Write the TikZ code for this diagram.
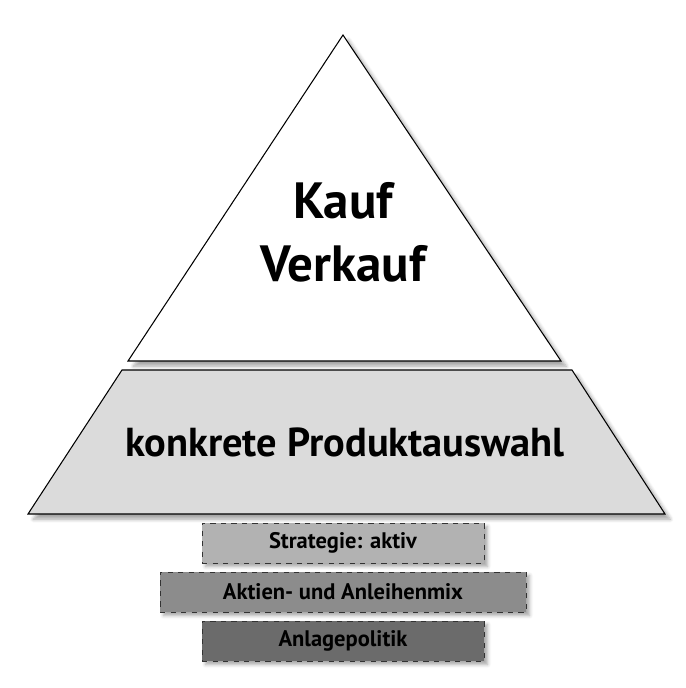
\documentclass[tikz,border=0pt]{standalone}
\usepackage{fontspec}
\setmainfont{PT Sans}
\usetikzlibrary{shadows.blur}

\begin{document}
\begin{tikzpicture}

\tikzset{
  level/.style={draw=black, line width=0.6pt, blur shadow={shadow xshift=3pt, shadow yshift=-3pt, shadow blur steps=6, shadow opacity=35}},
  stepbar/.style={draw=black!80, dashed, line width=0.5pt, minimum height=0.8cm, blur shadow={shadow xshift=2pt, shadow yshift=-2pt, shadow blur steps=5, shadow opacity=35}, font=\bfseries\fontsize{12.8}{14}\selectfont, inner sep=0pt}
}

\useasboundingbox (0,0) rectangle (13.7,13.76);

% Top of the pyramid: Kauf / Verkauf
\path[level, fill=white] (2.56,6.54) -- (6.86,13.06) -- (11.22,6.54) -- cycle;
\node[font=\bfseries\fontsize{29}{36}\selectfont, align=center] (kauf) at (6.86,9.12) {Kauf\\Verkauf};

% Middle layer: product selection
\path[level, fill=black!14] (0.56,3.48) -- (2.44,6.36) -- (11.44,6.36) -- (13.30,3.48) -- cycle;
\node[font=\bfseries\fontsize{23}{28}\selectfont] (produkt) at (6.90,4.92) {konkrete Produktauswahl};

% Base: three dashed bars
\node[stepbar, fill=black!30, minimum width=5.64cm] (strategie) at (6.86,2.90) {Strategie: aktiv};
\node[stepbar, fill=black!45, minimum width=7.32cm] (mix) at (6.86,1.92) {Aktien- und Anleihenmix};
\node[stepbar, fill=black!58, minimum width=5.64cm] (politik) at (6.86,0.94) {Anlagepolitik};

\end{tikzpicture}
\end{document}
